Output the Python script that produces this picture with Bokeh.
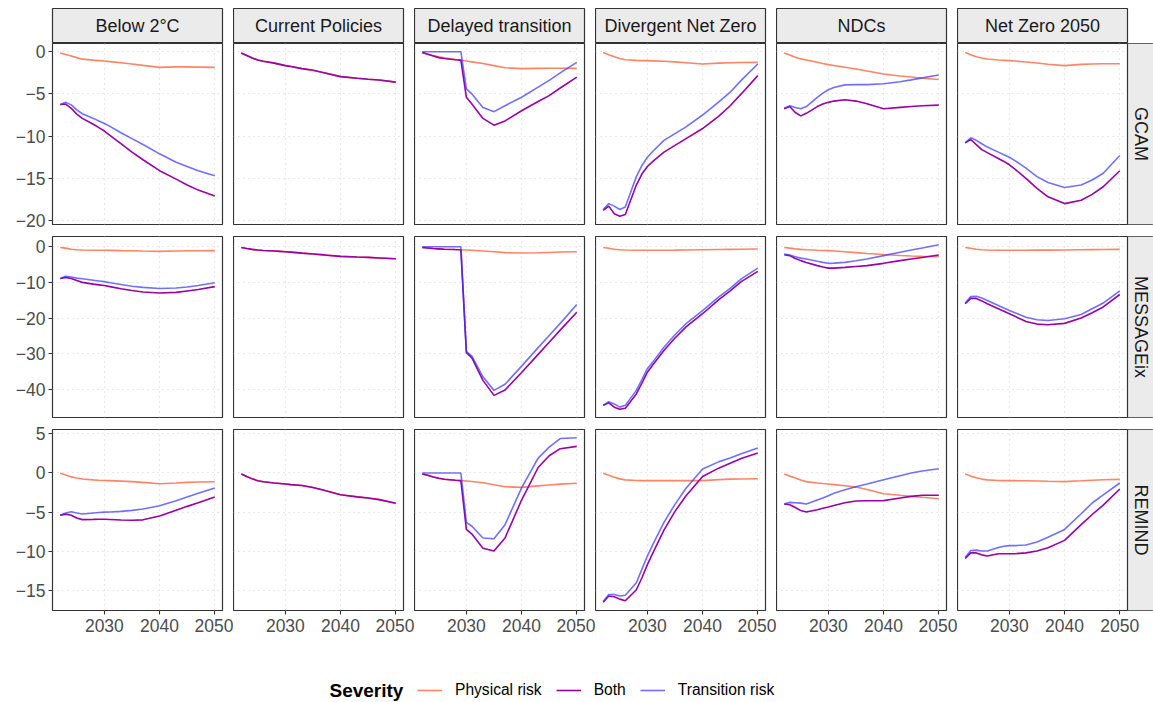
import math
from bokeh.plotting import figure
from bokeh.layouts import column, row
from bokeh.models import (Range1d, LinearAxis, Grid, FixedTicker, CustomJSTickFormatter,
                          Legend, LegendItem, Span, Label)
from bokeh.core.properties import value
from bokeh.embed import file_html
from bokeh.resources import INLINE

# ---------------------------------------------------------------- data
YEARS = [2022, 2023, 2024, 2025, 2026, 2028, 2029, 2030, 2031, 2033, 2035, 2037, 2040, 2043, 2045, 2047, 2050]

SCENARIOS = ["Below 2°C", "Current Policies", "Delayed transition", "Divergent Net Zero", "NDCs", "Net Zero 2050"]
MODELS = ["GCAM", "MESSAGEix", "REMIND"]
SEVERITIES = ["Physical risk", "Both", "Transition risk"]
LEGEND_TITLE = "Severity"

Y_TICKS_GCAM = [0, -5, -10, -15, -20]
Y_TICKS_MESSAGE = [0, -10, -20, -30, -40]
Y_TICKS_REMIND = [5, 0, -5, -10, -15]
X_TICKS = [2030, 2040, 2050]

# GCAM
G_B2C_P = [-0.15, -0.33, -0.5, -0.7, -0.88, -1.0, -1.05, -1.1, -1.17, -1.3, -1.45, -1.62, -1.85, -1.8, -1.8, -1.82, -1.85]
G_B2C_B = [-6.25, -6.2, -6.7, -7.4, -7.9, -8.6, -9.0, -9.4, -9.9, -10.9, -11.9, -12.8, -14.1, -15.1, -15.8, -16.4, -17.1]
G_B2C_T = [-6.25, -6.0, -6.3, -6.9, -7.35, -7.9, -8.2, -8.5, -8.85, -9.6, -10.3, -11.0, -12.1, -13.1, -13.6, -14.1, -14.7]
G_CP_P = [-0.15, -0.45, -0.75, -0.98, -1.12, -1.35, -1.5, -1.65, -1.75, -2.0, -2.2, -2.5, -2.95, -3.15, -3.26, -3.35, -3.6]
G_CP_B = [-0.15, -0.45, -0.75, -0.98, -1.12, -1.35, -1.5, -1.65, -1.75, -2.0, -2.2, -2.5, -2.95, -3.15, -3.26, -3.35, -3.6]
G_DT_P = [-0.1, -0.3, -0.45, -0.6, -0.72, -0.92, -1.0, -1.1, -1.2, -1.4, -1.65, -1.9, -2.0, -1.97, -1.95, -1.95, -1.97]
G_DT_B = [-0.1, -0.3, -0.5, -0.7, -0.8, -0.95, -1.0, -5.4, -6.2, -7.9, -8.7, -8.2, -7.0, -5.9, -5.2, -4.3, -3.0]
G_DT_T = [0, 0, 0, 0, 0, 0, 0, -4.4, -5.0, -6.6, -7.1, -6.4, -5.4, -4.2, -3.4, -2.5, -1.26]
G_DN_P = [-0.08, -0.35, -0.6, -0.8, -0.95, -1.02, -1.05, -1.06, -1.08, -1.12, -1.2, -1.3, -1.45, -1.35, -1.3, -1.27, -1.26]
G_DN_B = [-18.8, -18.3, -19.2, -19.5, -19.3, -15.8, -14.5, -13.6, -13.0, -11.9, -11.1, -10.3, -9.1, -7.6, -6.4, -5.0, -2.83]
G_DN_T = [-18.7, -18.0, -18.3, -18.7, -18.4, -14.8, -13.5, -12.5, -11.8, -10.5, -9.7, -8.9, -7.5, -5.9, -4.8, -3.4, -1.45]
G_NDC_P = [-0.15, -0.4, -0.65, -0.85, -0.98, -1.25, -1.4, -1.53, -1.63, -1.83, -2.04, -2.28, -2.63, -2.88, -3.0, -3.15, -3.3]
G_NDC_B = [-6.75, -6.5, -7.2, -7.6, -7.3, -6.5, -6.2, -6.0, -5.85, -5.7, -5.85, -6.17, -6.76, -6.6, -6.5, -6.4, -6.33]
G_NDC_T = [-6.7, -6.4, -6.6, -6.75, -6.5, -5.4, -4.9, -4.5, -4.25, -3.93, -3.9, -3.9, -3.8, -3.55, -3.34, -3.1, -2.75]
G_NZ_P = [-0.1, -0.35, -0.6, -0.75, -0.86, -0.98, -1.02, -1.06, -1.1, -1.22, -1.34, -1.48, -1.65, -1.5, -1.45, -1.43, -1.42]
G_NZ_B = [-10.8, -10.4, -11.0, -11.6, -11.96, -12.65, -13.0, -13.4, -13.9, -15.0, -16.2, -17.2, -18.0, -17.6, -16.9, -16.0, -14.1]
G_NZ_T = [-10.8, -10.2, -10.5, -10.9, -11.3, -11.9, -12.2, -12.5, -12.9, -13.8, -14.8, -15.5, -16.1, -15.8, -15.2, -14.4, -12.3]

# MESSAGEix
M_B2C_P = [-0.2, -0.4, -0.7, -0.85, -0.93, -0.97, -1.0, -1.0, -1.03, -1.1, -1.15, -1.22, -1.3, -1.2, -1.15, -1.12, -1.1]
M_B2C_B = [-8.9, -8.6, -8.9, -9.5, -10.0, -10.5, -10.7, -10.9, -11.2, -11.8, -12.3, -12.7, -13.0, -12.8, -12.4, -12.0, -11.2]
M_B2C_T = [-8.9, -8.3, -8.5, -8.8, -9.0, -9.4, -9.6, -9.8, -10.1, -10.6, -11.1, -11.4, -11.7, -11.6, -11.3, -10.9, -10.1]
M_CP_P = [-0.2, -0.5, -0.75, -0.93, -1.05, -1.2, -1.3, -1.4, -1.52, -1.8, -2.05, -2.3, -2.7, -2.9, -3.0, -3.15, -3.36]
M_CP_B = [-0.2, -0.5, -0.75, -0.93, -1.05, -1.2, -1.3, -1.4, -1.52, -1.8, -2.05, -2.3, -2.7, -2.9, -3.0, -3.15, -3.36]
M_DT_P = [-0.2, -0.35, -0.5, -0.6, -0.7, -0.8, -0.84, -0.9, -1.0, -1.2, -1.4, -1.65, -1.77, -1.7, -1.6, -1.5, -1.4]
M_DT_B = [-0.2, -0.35, -0.5, -0.6, -0.7, -0.8, -0.84, -29.7, -31.2, -37.5, -41.7, -40.2, -35.3, -30.2, -26.8, -23.4, -18.4]
M_DT_T = [0, 0, 0, 0, 0, 0, 0, -29.4, -30.7, -36.5, -40.3, -38.6, -33.5, -28.3, -24.9, -21.5, -16.2]
M_DN_P = [-0.2, -0.45, -0.7, -0.85, -0.93, -0.98, -1.0, -1.0, -1.0, -0.98, -0.95, -0.9, -0.84, -0.78, -0.74, -0.7, -0.65]
M_DN_B = [-44.5, -43.8, -45.0, -45.6, -45.3, -41.3, -38.3, -35.2, -33.1, -29.1, -25.6, -22.5, -18.8, -14.8, -12.4, -9.8, -6.9]
M_DN_T = [-44.5, -43.5, -44.1, -45.0, -44.5, -40.3, -37.3, -34.2, -32.3, -28.2, -24.7, -21.6, -17.9, -14.0, -11.7, -9.0, -6.0]
M_NDC_P = [-0.2, -0.4, -0.6, -0.75, -0.85, -1.0, -1.05, -1.1, -1.2, -1.4, -1.65, -1.9, -2.2, -2.45, -2.6, -2.7, -2.8]
M_NDC_B = [-2.24, -2.5, -3.3, -3.9, -4.4, -5.3, -5.7, -6.0, -6.0, -5.8, -5.55, -5.3, -4.66, -3.9, -3.45, -3.0, -2.33]
M_NDC_T = [-2.05, -2.3, -2.8, -3.2, -3.45, -4.1, -4.4, -4.66, -4.6, -4.4, -3.95, -3.45, -2.5, -1.55, -0.93, -0.35, 0.56]
M_NZ_P = [-0.2, -0.45, -0.7, -0.85, -0.93, -0.98, -1.0, -1.0, -1.0, -0.98, -0.96, -0.95, -0.93, -0.85, -0.8, -0.78, -0.75]
M_NZ_B = [-16.0, -14.5, -14.5, -15.2, -16.0, -17.4, -18.1, -18.8, -19.5, -21.0, -21.7, -21.9, -21.5, -20.0, -18.5, -16.9, -13.4]
M_NZ_T = [-15.8, -14.0, -13.9, -14.4, -15.1, -16.5, -17.2, -17.9, -18.5, -19.8, -20.5, -20.7, -20.2, -19.0, -17.4, -15.8, -12.4]

# REMIND
R_B2C_P = [-0.03, -0.25, -0.5, -0.65, -0.77, -0.88, -0.92, -0.95, -0.98, -1.04, -1.1, -1.2, -1.37, -1.27, -1.2, -1.15, -1.11]
R_B2C_B = [-5.4, -5.25, -5.4, -5.75, -5.95, -5.92, -5.9, -5.9, -5.93, -6.0, -6.04, -5.98, -5.5, -4.75, -4.26, -3.8, -3.07]
R_B2C_T = [-5.4, -5.1, -4.94, -5.1, -5.23, -5.1, -5.05, -5.0, -4.97, -4.9, -4.77, -4.6, -4.17, -3.55, -3.07, -2.6, -1.92]
R_CP_P = [-0.13, -0.45, -0.75, -1.0, -1.12, -1.27, -1.34, -1.41, -1.48, -1.6, -1.85, -2.2, -2.77, -3.05, -3.2, -3.4, -3.86]
R_CP_B = [-0.13, -0.45, -0.75, -1.0, -1.12, -1.27, -1.34, -1.41, -1.48, -1.6, -1.85, -2.2, -2.77, -3.05, -3.2, -3.4, -3.86]
R_DT_P = [-0.13, -0.3, -0.5, -0.68, -0.8, -0.93, -0.98, -1.03, -1.08, -1.25, -1.5, -1.75, -1.84, -1.65, -1.53, -1.42, -1.31]
R_DT_B = [-0.13, -0.3, -0.5, -0.68, -0.8, -0.93, -0.98, -7.2, -7.8, -9.6, -9.95, -8.3, -3.45, 0.7, 2.2, 3.1, 3.4]
R_DT_T = [0, 0, 0, 0, 0, 0, 0, -6.3, -6.8, -8.3, -8.4, -6.6, -1.9, 1.9, 3.3, 4.4, 4.5]
R_DN_P = [-0.03, -0.3, -0.55, -0.75, -0.88, -0.95, -0.97, -0.97, -0.97, -0.97, -0.97, -0.97, -0.97, -0.85, -0.78, -0.76, -0.73]
R_DN_B = [-16.5, -15.7, -15.8, -16.1, -16.3, -14.9, -13.4, -11.7, -10.2, -7.3, -4.9, -2.9, -0.44, 0.65, 1.25, 1.85, 2.54]
R_DN_T = [-16.4, -15.5, -15.5, -15.7, -15.6, -14.0, -12.3, -10.6, -9.1, -6.3, -4.0, -1.95, 0.5, 1.45, 1.9, 2.45, 3.18]
R_NDC_P = [-0.13, -0.4, -0.65, -0.9, -1.1, -1.27, -1.35, -1.41, -1.48, -1.62, -1.8, -2.1, -2.64, -2.85, -2.98, -3.1, -3.28]
R_NDC_B = [-3.96, -4.05, -4.4, -4.8, -4.98, -4.7, -4.5, -4.35, -4.15, -3.8, -3.58, -3.55, -3.53, -3.2, -2.98, -2.85, -2.85]
R_NDC_T = [-3.96, -3.75, -3.8, -3.85, -3.96, -3.45, -3.2, -2.9, -2.6, -2.15, -1.75, -1.4, -0.86, -0.35, -0.01, 0.25, 0.54]
R_NZ_P = [-0.13, -0.4, -0.6, -0.78, -0.88, -0.95, -0.97, -0.97, -0.98, -1.0, -1.03, -1.06, -1.1, -1.0, -0.92, -0.86, -0.81]
R_NZ_B = [-10.9, -10.2, -10.2, -10.45, -10.6, -10.3, -10.3, -10.3, -10.3, -10.2, -9.95, -9.55, -8.6, -6.6, -5.3, -4.1, -2.05]
R_NZ_T = [-10.8, -9.9, -9.85, -9.95, -9.95, -9.5, -9.35, -9.27, -9.27, -9.2, -8.8, -8.2, -7.2, -5.2, -3.83, -2.8, -1.28]

# lookup table built from the arrays above (Current Policies has no transition-risk series)
DATA = {
    "GCAM": [(G_B2C_P, G_B2C_B, G_B2C_T), (G_CP_P, G_CP_B, None), (G_DT_P, G_DT_B, G_DT_T),
             (G_DN_P, G_DN_B, G_DN_T), (G_NDC_P, G_NDC_B, G_NDC_T), (G_NZ_P, G_NZ_B, G_NZ_T)],
    "MESSAGEix": [(M_B2C_P, M_B2C_B, M_B2C_T), (M_CP_P, M_CP_B, None), (M_DT_P, M_DT_B, M_DT_T),
                  (M_DN_P, M_DN_B, M_DN_T), (M_NDC_P, M_NDC_B, M_NDC_T), (M_NZ_P, M_NZ_B, M_NZ_T)],
    "REMIND": [(R_B2C_P, R_B2C_B, R_B2C_T), (R_CP_P, R_CP_B, None), (R_DT_P, R_DT_B, R_DT_T),
               (R_DN_P, R_DN_B, R_DN_T), (R_NDC_P, R_NDC_B, R_NDC_T), (R_NZ_P, R_NZ_B, R_NZ_T)],
}
Y_TICKS = {"GCAM": Y_TICKS_GCAM, "MESSAGEix": Y_TICKS_MESSAGE, "REMIND": Y_TICKS_REMIND}

# ---------------------------------------------------------------- style
FONT = "Liberation Sans"
COLORS = ["#FF8466", "#9A00A8", "#3333FF"]
ALPHAS = [1.0, 1.0, 0.7]
LINE_W = 1.6
STRIP_FILL = "#EBEBEB"
DARK = "#333333"
GRID_COL = "#D4D4D4"

FRAME_W, FRAME_H = 170, 181
LEFT, GAP = 52, 11
STRIP_W, STRIP_H, TOP = 26, 35, 8
HALF_ROW_GAP = 6
AXIS_B = 40
LEGEND_H = 52
TOTAL_W = LEFT + 6 * FRAME_W + 5 * GAP + STRIP_W

x_pad = 0.05 * (max(YEARS) - min(YEARS))
XMIN, XMAX = min(YEARS) - x_pad, max(YEARS) + x_pad
X_STRIP_END = XMAX + STRIP_W * (XMAX - XMIN) / FRAME_W

neg_fmt = CustomJSTickFormatter(code="return tick < 0 ? '\u2212' + (-tick) : '' + tick;")


def base_fig(width, height, xr, yr, l, r, t, b, fill="white", outline=DARK):
    return figure(width=width, height=height, x_range=xr, y_range=yr,
                  x_axis_type=None, y_axis_type=None, toolbar_location=None,
                  output_backend="svg", min_border_left=l, min_border_right=r,
                  min_border_top=t, min_border_bottom=b,
                  background_fill_color=fill, border_fill_color="white",
                  outline_line_color=outline, outline_line_width=1.2)


def style_axis(ax):
    ax.axis_line_color = None
    ax.major_tick_line_color = DARK
    ax.major_tick_line_width = 1.1
    ax.major_tick_out = 4
    ax.major_tick_in = 0
    ax.minor_tick_line_color = None
    ax.major_label_text_font = FONT
    ax.major_label_text_font_size = "17.5px"
    ax.major_label_text_color = "#4D4D4D"


# ---------------------------------------------------------------- top strips
strip_figs = []
for c, scen in enumerate(SCENARIOS):
    l = LEFT if c == 0 else 0
    r = GAP if c < 5 else STRIP_W
    sf = base_fig(l + FRAME_W + r, TOP + STRIP_H, Range1d(0, 1), Range1d(0, 1), l, r, TOP, 0, fill=STRIP_FILL)
    sf.text(x=[0.5], y=[0.5], text=[scen], text_align="center", text_baseline="middle",
            text_font=value(FONT), text_font_size=value("18px"), text_color="#1A1A1A")
    strip_figs.append(sf)

rows = [row(*strip_figs, spacing=0)]

# ---------------------------------------------------------------- panels
for ri, model in enumerate(MODELS):
    allv = [v for trip in DATA[model] for s in trip if s is not None for v in s]
    ypad = 0.05 * (max(allv) - min(allv))
    ymin, ymax = min(allv) - ypad, max(allv) + ypad
    t = 0 if ri == 0 else HALF_ROW_GAP
    b = HALF_ROW_GAP if ri < 2 else AXIS_B
    figs = []
    for c, scen in enumerate(SCENARIOS):
        last = c == 5
        l = LEFT if c == 0 else 0
        r = 0 if last else GAP
        fw = FRAME_W + (STRIP_W if last else 0)
        xr = Range1d(XMIN, X_STRIP_END if last else XMAX)
        p = base_fig(l + fw + r, t + FRAME_H + b, xr, Range1d(ymin, ymax), l, r, t, b)

        p.add_layout(Grid(dimension=0, ticker=FixedTicker(ticks=X_TICKS), grid_line_color=GRID_COL,
                          grid_line_dash="1 4", grid_line_width=1.2))
        p.add_layout(Grid(dimension=1, ticker=FixedTicker(ticks=Y_TICKS[model]), grid_line_color=GRID_COL,
                          grid_line_dash="1 4", grid_line_width=1.2))

        if c == 0:
            ya = LinearAxis(ticker=FixedTicker(ticks=Y_TICKS[model]), formatter=neg_fmt)
            style_axis(ya)
            ya.major_label_standoff = 3
            p.add_layout(ya, "left")
        if ri == 2:
            xa = LinearAxis(ticker=FixedTicker(ticks=X_TICKS))
            style_axis(xa)
            xa.major_label_standoff = 4
            p.add_layout(xa, "below")

        for si, series in enumerate(DATA[model][c]):
            if series is None:
                continue
            p.line(YEARS, series, line_color=COLORS[si], line_alpha=ALPHAS[si], line_width=LINE_W)

        if last:
            p.quad(left=[XMAX], right=[X_STRIP_END], bottom=[ymin], top=[ymax],
                   fill_color=STRIP_FILL, line_color=None)
            p.add_layout(Span(location=XMAX, dimension="height", line_color=DARK, line_width=1.2))
            p.text(x=[(XMAX + X_STRIP_END) / 2], y=[(ymin + ymax) / 2], text=[model], angle=-math.pi / 2,
                   text_align="center", text_baseline="middle", text_font=value(FONT),
                   text_font_size=value("18px"), text_color="#1A1A1A")
        figs.append(p)
    rows.append(row(*figs, spacing=0))

# ---------------------------------------------------------------- legend
lf = base_fig(TOTAL_W, LEGEND_H, Range1d(0, 1), Range1d(0, 1), LEFT, STRIP_W, 0, 0, outline=None)
items = []
for si, sev in enumerate(SEVERITIES):
    # hidden proxy renderer (same series as first panel) only used for the legend key
    rr = lf.line(YEARS, DATA["GCAM"][0][si], line_color=COLORS[si], line_alpha=ALPHAS[si],
                 line_width=LINE_W, visible=False)
    items.append(LegendItem(label=sev, renderers=[rr]))

legend = Legend(items=items, orientation="horizontal", location=(365, 2),
                label_text_font=FONT, label_text_font_size="15.6px", label_text_color="#000000",
                glyph_width=25, glyph_height=20, label_height=20, label_standoff=13, spacing=14,
                padding=0, margin=0, border_line_color=None, background_fill_alpha=0,
                click_policy="none")
lf.add_layout(legend, "center")
lf.add_layout(Label(x=277, y=12, x_units="screen", y_units="screen", text=LEGEND_TITLE,
                    text_font=FONT, text_font_size="19px", text_font_style="bold",
                    text_color="#000000", text_baseline="middle", text_align="left"))
rows.append(lf)

layout = column(*rows, spacing=0)

with open("out.html", "w") as f:
    f.write(file_html(layout, INLINE))
